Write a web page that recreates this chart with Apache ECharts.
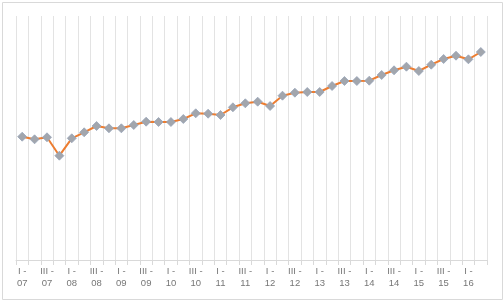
<!DOCTYPE html>
<html><head><meta charset="utf-8">
<script src="https://cdn.jsdelivr.net/npm/echarts@6/dist/echarts.min.js"></script>
<style>html,body{margin:0;padding:0;background:#fff}#c{width:504px;height:302px}</style>
</head><body><div id="c"></div>
<script>
var years = ['07','08','09','10','11','12','13','14','15','16'];
var quarters = ['I','II','III','IV'];
var categories = [];
years.forEach(function(y){ quarters.forEach(function(q){ categories.push(q + ' -\n' + y); }); });
categories = categories.slice(0, 38);
var values = [123.3,120.7,122.7,104.3,121.7,127.7,134,131.7,131.7,135,138.3,138,138,141,146.7,146.3,145,152.7,156.7,158.3,154,164.3,167.3,168,168,174,179,179,179.3,185,189.7,193.3,189,195.3,201,204.3,200.7,208];

var chart = echarts.init(document.getElementById('c'), null, {renderer:'canvas'});
chart.setOption({
  animation:false,
  grid:{left:16,right:17,top:16,bottom:42},
  graphic:[{type:'rect',shape:{x:2.5,y:2.5,width:500,height:297},style:{fill:'none',stroke:'#d9d9d9',lineWidth:1}}],
  xAxis:{type:'category',data:categories,boundaryGap:true,
    axisLine:{lineStyle:{color:'#d9d9d9',width:1}},
    axisTick:{show:true,interval:0,length:5,lineStyle:{color:'#d9d9d9'}},
    splitLine:{show:true,interval:0,lineStyle:{color:'#e3e3e3',width:1}},
    axisLabel:{interval:1,color:'#767676',fontSize:9.5,fontFamily:'Liberation Sans',lineHeight:12,margin:5}
  },
  yAxis:{type:'value',min:0,max:244,show:false,splitLine:{show:false}},
  series:[{type:'line',data:values,symbol:'diamond',symbolSize:9,showAllSymbol:true,
    lineStyle:{color:'#ED7D31',width:2},
    itemStyle:{color:'#a2a6ad',borderColor:'#97a5ba',borderWidth:0.8}
  }]
});
</script></body></html>
